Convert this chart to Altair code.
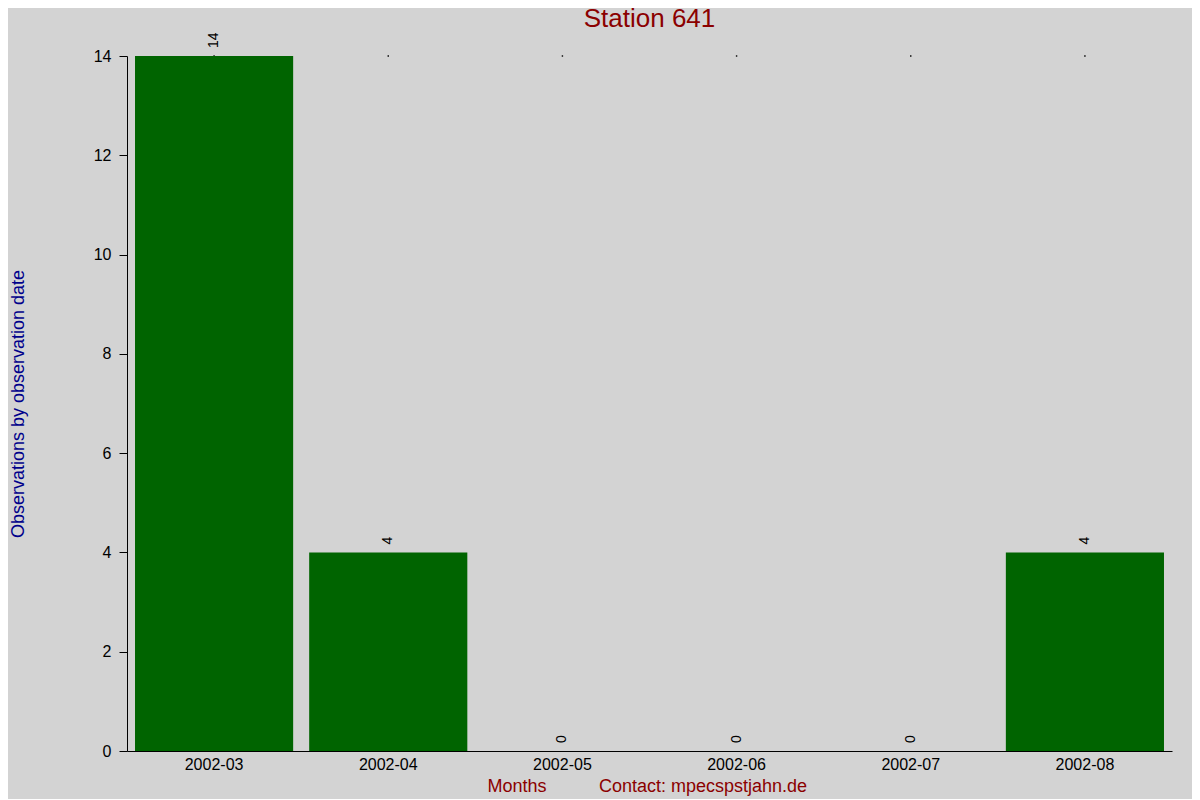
import altair as alt
import pandas as pd

months = ["2002-03", "2002-04", "2002-05", "2002-06", "2002-07", "2002-08"]
counts = [14, 4, 0, 0, 0, 4]
y_ticks = [0, 2, 4, 6, 8, 10, 12, 14]
y_max = 14

title_text = "Station 641"
y_title = "Observations by observation date"
x_title = "Months"
contact_text = "Contact: mpecspstjahn.de"

df = pd.DataFrame({"month": months, "count": counts})

FONT = "Liberation Sans"

x_enc = alt.X(
    "month:N",
    sort=months,
    scale=alt.Scale(paddingInner=0.092, paddingOuter=0.046),
    axis=alt.Axis(
        title=None,
        labelAngle=0,
        tickSize=0,
        labelPadding=5,
        labelFontSize=16,
        labelColor="black",
        domainColor="black",
        labelFont=FONT,
    ),
)
y_enc = alt.Y(
    "count:Q",
    scale=alt.Scale(domain=[0, y_max], nice=False),
    axis=alt.Axis(
        title=y_title,
        values=y_ticks,
        grid=False,
        tickSize=8,
        tickColor="black",
        domainColor="black",
        labelFontSize=16,
        labelColor="black",
        labelPadding=8,
        labelFont=FONT,
        titleFont=FONT,
        titleFontSize=18,
        titleFontWeight="normal",
        titleColor="#00008B",
        titleX=-100,
        titleAnchor="middle",
    ),
)

base = alt.Chart(df)

dots = base.mark_square(size=2, color="black", opacity=1).encode(
    x=x_enc, y=alt.datum(y_max)
)

bars = base.mark_bar(color="#006400").encode(x=x_enc, y=y_enc)

labels = base.mark_text(
    angle=270, align="left", baseline="middle", dx=8, fontSize=14, font=FONT, color="black"
).encode(x=alt.X("month:N", sort=months), y="count:Q", text="count:Q")

xt = alt.Chart(pd.DataFrame({"t": [x_title]})).mark_text(
    font=FONT, fontSize=18, color="#8B0000", align="center", baseline="alphabetic"
).encode(x=alt.value(390), y=alt.value(736), text="t:N")

ct = alt.Chart(pd.DataFrame({"t": [contact_text]})).mark_text(
    font=FONT, fontSize=18, color="#8B0000", align="left", baseline="alphabetic"
).encode(x=alt.value(472), y=alt.value(736), text="t:N")

chart = (
    alt.layer(dots, bars, labels, xt, ct)
    .properties(
        width=1045,
        height=695,
        background="#d3d3d3",
        padding={"left": 119, "top": 48, "right": 20, "bottom": 48},
        autosize=alt.AutoSizeParams(type="none"),
        title=alt.TitleParams(
            title_text, font=FONT, fontSize=26, fontWeight="normal", color="#8B0000",
            anchor="middle", offset=0,
        ),
    )
    .configure_view(stroke=None)
)

chart.save("out.html", embed_options={"renderer": "svg", "actions": False})
